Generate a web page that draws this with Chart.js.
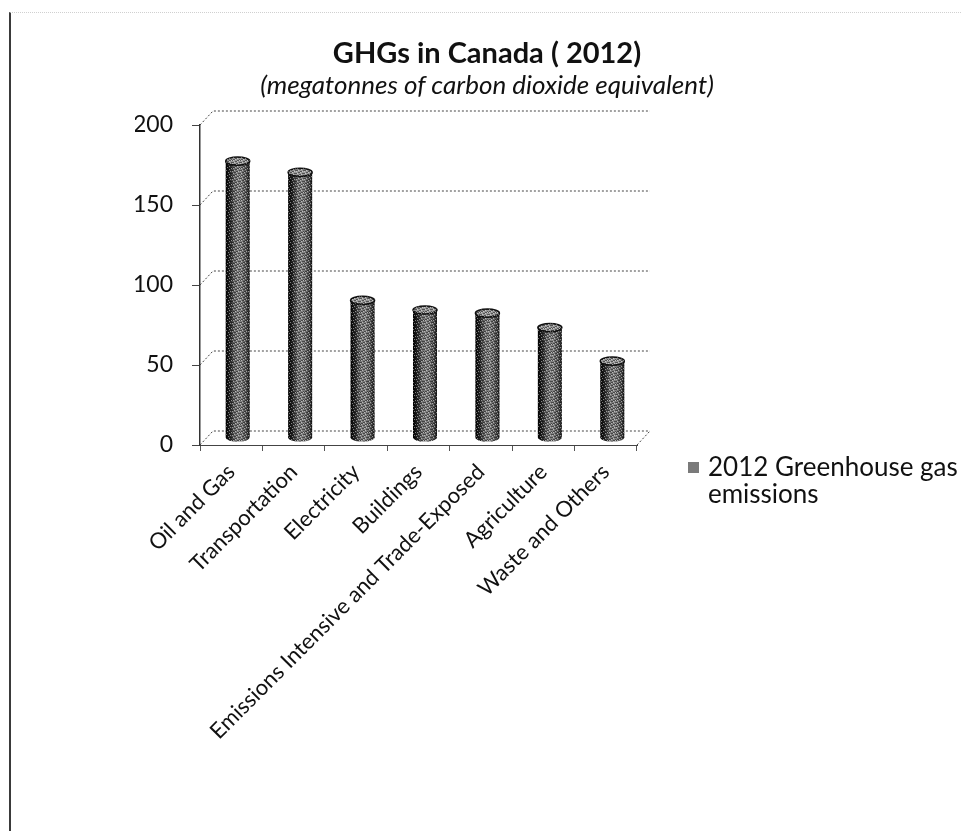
<!DOCTYPE html>
<html>
<head>
<meta charset="utf-8">
<title>GHGs in Canada (2012)</title>
<script src="https://cdn.jsdelivr.net/npm/chart.js@4.4.0/dist/chart.umd.min.js"></script>
<style>
  html, body { margin: 0; padding: 0; background: #fff; }
  #wrap { position: relative; width: 961px; height: 831px; overflow: hidden; font-family: Lato, "Open Sans", sans-serif; color: #111; }
  #frame { position: absolute; left: 9px; top: 12px; right: 0; bottom: 0; border-left: 2px solid #3a3a3a; border-top: 1px dotted #d0d0d0; }
  #chart { position: absolute; left: 0; top: 0; }
  .heading { position: absolute; left: 487px; transform: translateX(-50%); white-space: nowrap; }
  #title { top: 34px; font-weight: bold; font-size: 29px; }
  #subtitle { top: 68px; font-style: italic; font-size: 26px; }
  #legend { position: absolute; left: 688px; top: 453px; font-size: 26px; line-height: 27px; }
  #legend .box { position: absolute; left: 0; top: 9px; width: 11px; height: 11px; background: #7a7a7a; }
  #legend .text { margin-left: 20px; width: 262px; }
</style>
</head>
<body>
<div id="wrap">
  <div id="frame"></div>
  <canvas id="chart" width="961" height="831"></canvas>
  <div class="heading" id="title">GHGs in Canada ( 2012)</div>
  <div class="heading" id="subtitle">(megatonnes of carbon dioxide equivalent)</div>
  <div id="legend"><span class="box"></span><div class="text"></div></div>
</div>
<script>
const categories = [
  "Oil and Gas",
  "Transportation",
  "Electricity",
  "Buildings",
  "Emissions Intensive and Trade-Exposed",
  "Agriculture",
  "Waste and Others",
];
const emissions2012 = [173, 166, 86, 80, 78, 69, 48];
const yTicks = [0, 50, 100, 150, 200];
const seriesLabel = "2012 Greenhouse gas emissions";

const FONT = "Lato, 'Open Sans', sans-serif";
const BAR_W = 24;
// depth of the 3-D box: back wall offset, columns stand half way in
const DEPTH_X = 13, DEPTH_Y = 14;

// small fixed speckle tile so the cylinders look grainy like printed toner
function makeGrain() {
  const c = document.createElement("canvas");
  c.width = c.height = 8;
  const g = c.getContext("2d");
  for (let i = 0; i < 64; i++) {
    const k = (i * 37 + (i >> 3) * 11) % 13;
    if (k < 4) g.fillStyle = "#000";
    else if (k > 10) g.fillStyle = "#fff";
    else continue;
    g.fillRect(i % 8, i >> 3, 1, 1);
  }
  return c;
}

function cylinderFill(ctx, x) {
  const gr = ctx.createLinearGradient(x - BAR_W / 2, 0, x + BAR_W / 2, 0);
  gr.addColorStop(0, "#000");
  gr.addColorStop(0.2, "#2c2c2c");
  gr.addColorStop(0.4, "#777");
  gr.addColorStop(0.62, "#868686");
  gr.addColorStop(0.86, "#555");
  gr.addColorStop(1, "#1a1a1a");
  return gr;
}

// back wall gridlines with a little depth, like the 3-D column chart
const wall3d = {
  id: "wall3d",
  beforeDatasetsDraw(chart) {
    const { ctx, chartArea: a, scales: { y } } = chart;
    ctx.save();
    ctx.strokeStyle = "#444";
    ctx.lineWidth = 1;
    ctx.setLineDash([2, 2]);
    yTicks.forEach((v) => {
      const py = y.getPixelForValue(v);
      ctx.beginPath();
      ctx.moveTo(a.left, py);
      ctx.lineTo(a.left + DEPTH_X, py - DEPTH_Y);
      ctx.lineTo(a.right + DEPTH_X, py - DEPTH_Y);
      ctx.stroke();
    });
    ctx.beginPath();
    ctx.moveTo(a.right, a.bottom);
    ctx.lineTo(a.right + DEPTH_X, a.bottom - DEPTH_Y);
    ctx.stroke();
    ctx.restore();
  },
};

// columns drawn as cylinders, set back half the depth of the box
const cylinders = {
  id: "cylinders",
  afterDatasetsDraw(chart) {
    const ctx = chart.ctx;
    const grain = ctx.createPattern(makeGrain(), "repeat");
    chart.getDatasetMeta(0).data.forEach((bar) => {
      const p = bar.getProps(["x", "y", "base", "width"], true);
      const x = p.x + DEPTH_X / 2;
      const top = p.y - DEPTH_Y / 2;
      const base = p.base - DEPTH_Y / 2;
      const rx = p.width / 2, ry = p.width * 0.17;
      ctx.save();
      ctx.fillStyle = cylinderFill(ctx, x);
      ctx.beginPath();
      ctx.moveTo(x - rx, top);
      ctx.lineTo(x - rx, base);
      ctx.ellipse(x, base, rx, ry, 0, Math.PI, 0, true);
      ctx.lineTo(x + rx, top);
      ctx.closePath();
      ctx.fill();
      ctx.globalAlpha = 0.45;
      ctx.fillStyle = grain;
      ctx.fill();
      ctx.globalAlpha = 1;
      // top cap
      ctx.fillStyle = "#999";
      ctx.strokeStyle = "#111";
      ctx.lineWidth = 1.5;
      ctx.beginPath();
      ctx.ellipse(x, top, rx, ry, 0, 0, Math.PI * 2);
      ctx.fill();
      ctx.stroke();
      ctx.globalAlpha = 0.45;
      ctx.fillStyle = grain;
      ctx.fill();
      ctx.restore();
    });
  },
};

const chart = new Chart(document.getElementById("chart"), {
  type: "bar",
  data: {
    labels: categories,
    datasets: [
      {
        label: seriesLabel,
        data: emissions2012,
        barThickness: BAR_W,
        backgroundColor: "rgba(0,0,0,0)",
        borderWidth: 0,
      },
    ],
  },
  options: {
    responsive: false,
    animation: false,
    layout: { padding: { left: 135, right: 324, top: 125, bottom: 0 } },
    plugins: {
      legend: { display: false },
      tooltip: { enabled: false },
    },
    scales: {
      x: {
        grid: { offset: true, drawOnChartArea: false, tickLength: 6, color: "#555" },
        border: { color: "#444", dash: [2, 2] },
        ticks: {
          autoSkip: false,
          minRotation: 45,
          maxRotation: 45,
          padding: 8,
          color: "#111",
          font: { family: FONT, size: 22 },
        },
        afterFit(s) { s.height = 386; },
      },
      y: {
        min: 0,
        max: 200,
        grid: { drawOnChartArea: false, tickLength: 8, color: "#444" },
        border: { color: "#333", width: 1.5 },
        ticks: {
          stepSize: 50,
          padding: 19,
          color: "#111",
          font: { family: FONT, size: 23 },
        },
        afterFit(s) { s.width = 65; },
      },
    },
  },
  plugins: [wall3d, cylinders],
});

document.querySelector("#legend .text").textContent = chart.data.datasets[0].label;
</script>
</body>
</html>
